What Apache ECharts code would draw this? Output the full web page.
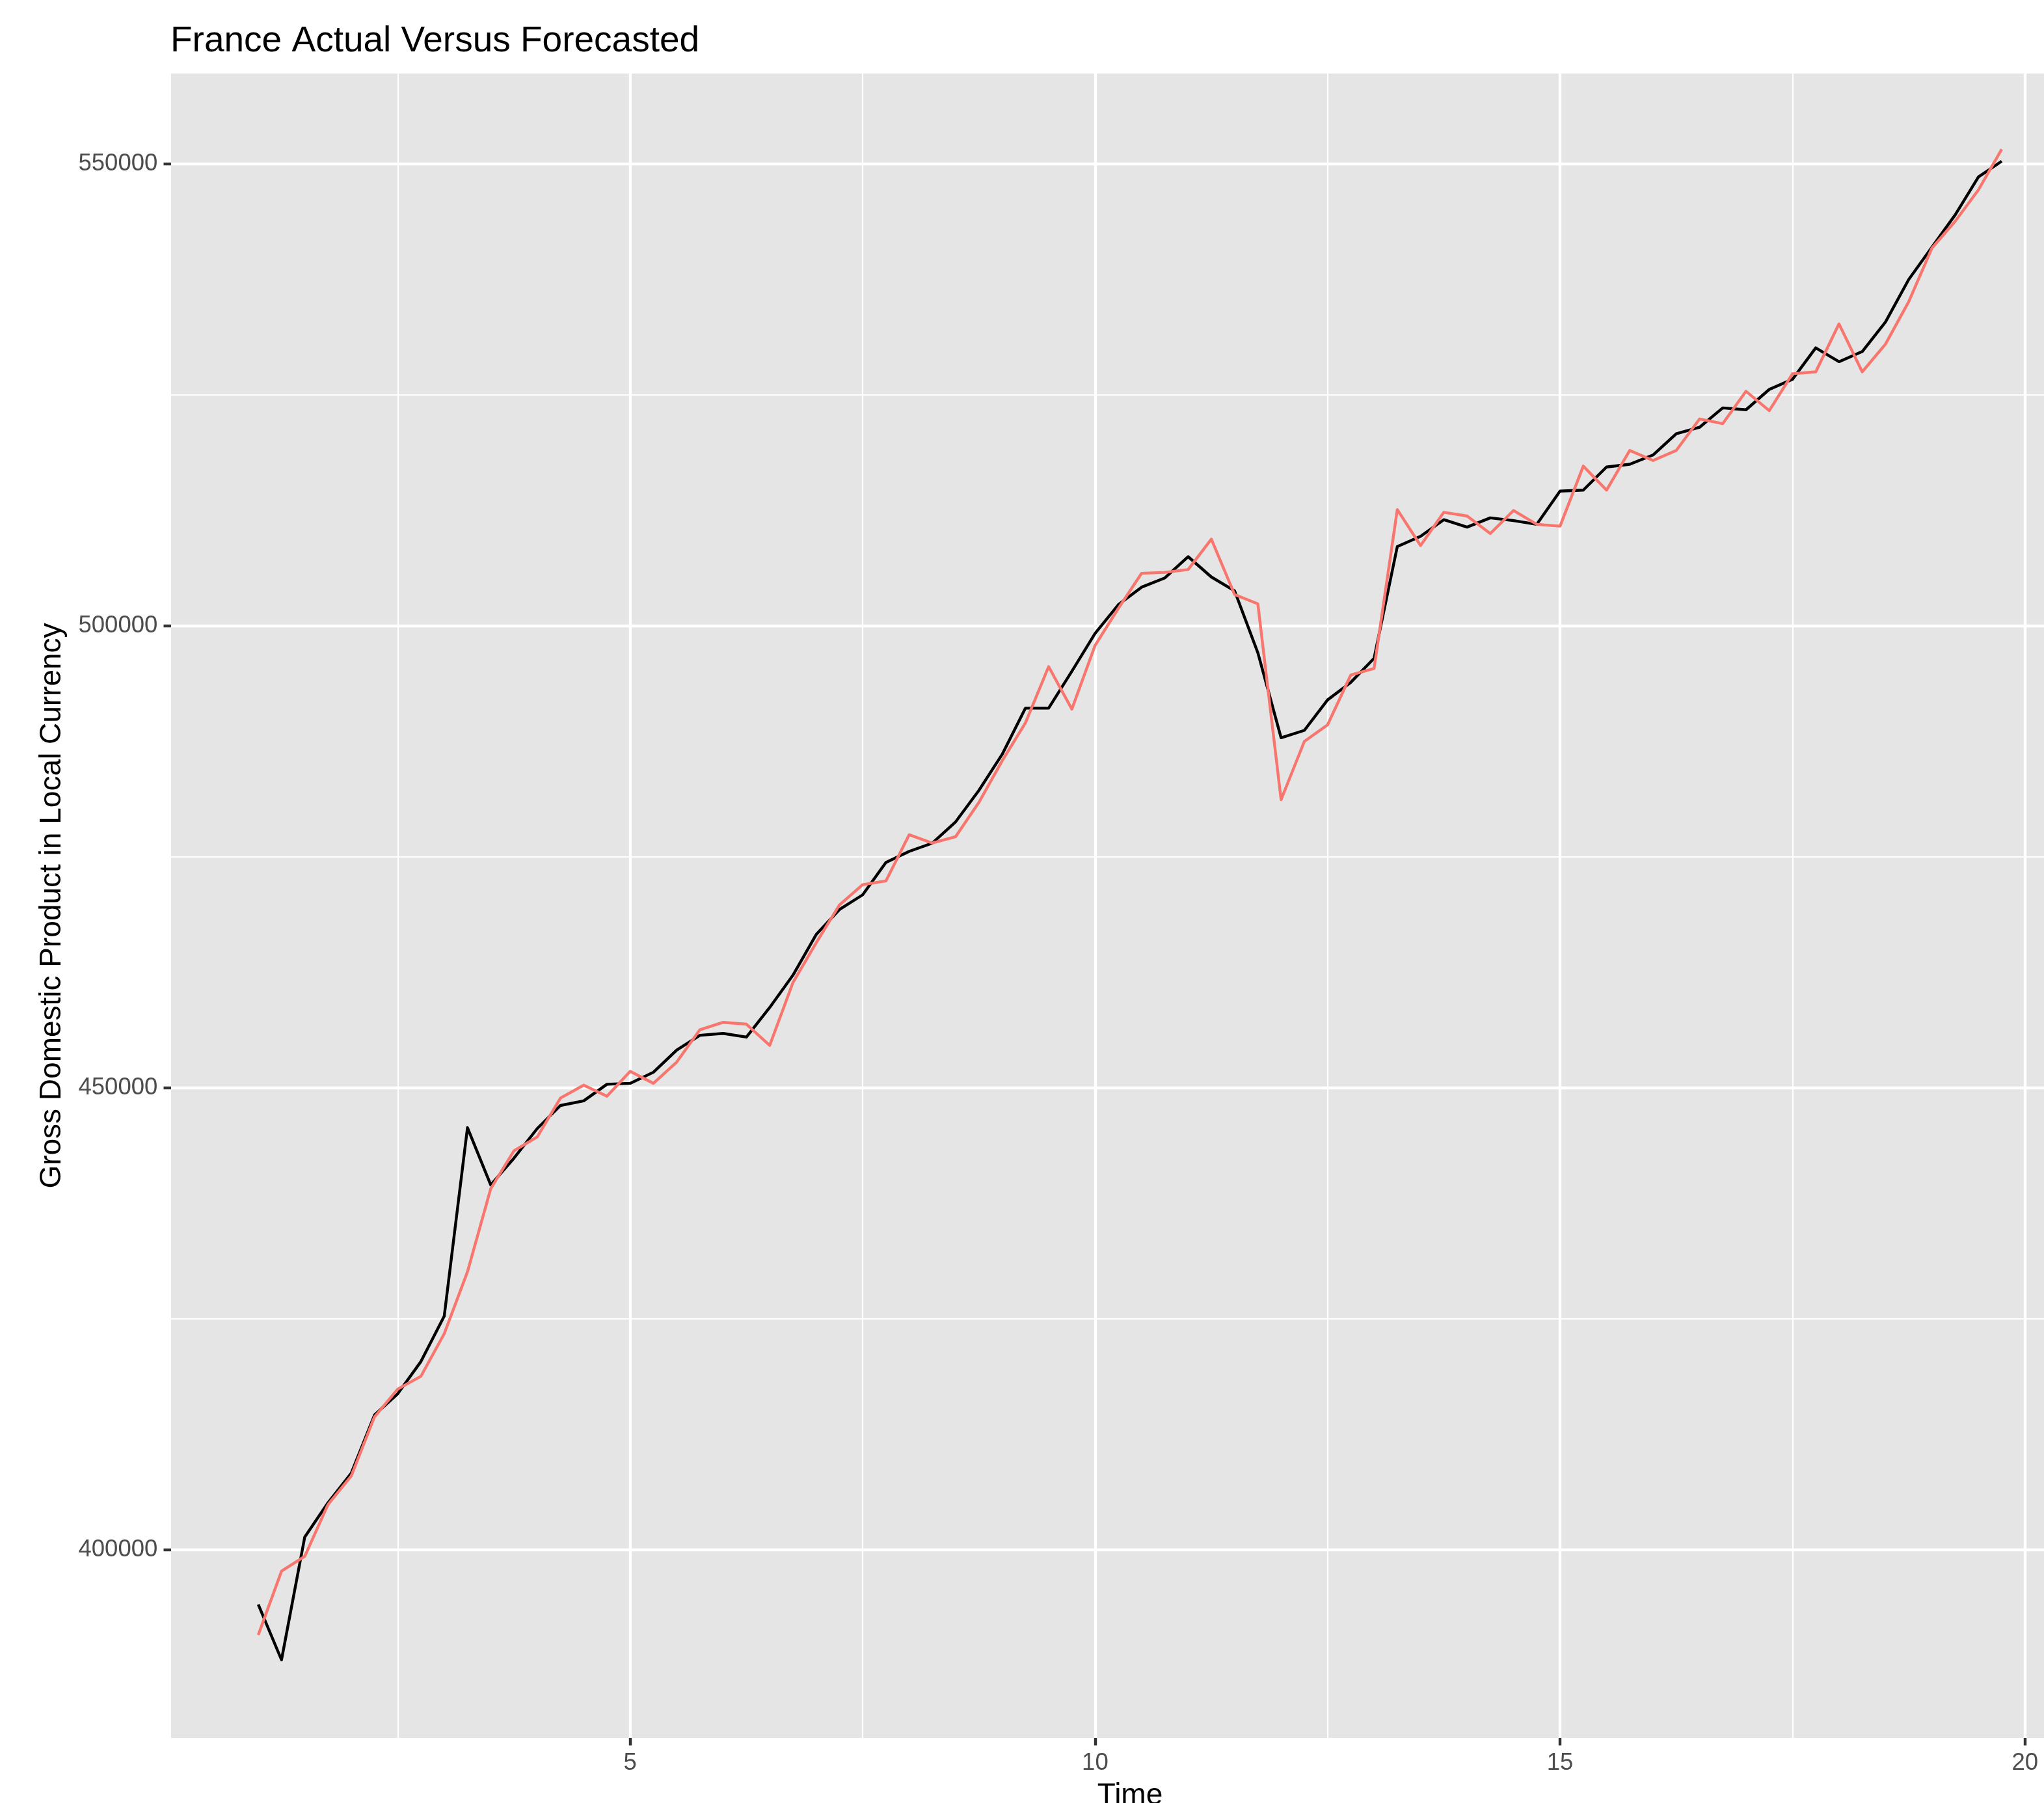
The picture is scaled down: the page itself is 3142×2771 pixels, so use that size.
<!DOCTYPE html>
<html>
<head>
<meta charset="utf-8">
<script src="https://cdn.jsdelivr.net/npm/echarts@6/dist/echarts.min.js"></script>
<style>
html,body{margin:0;padding:0;background:#fff;}
#chart{width:3142px;height:2771px;}
</style>
</head>
<body>
<div id="chart"></div>
<script>
const time = [1, 1.25, 1.5, 1.75, 2, 2.25, 2.5, 2.75, 3, 3.25, 3.5, 3.75, 4, 4.25, 4.5, 4.75,
  5, 5.25, 5.5, 5.75, 6, 6.25, 6.5, 6.75, 7, 7.25, 7.5, 7.75, 8, 8.25, 8.5, 8.75,
  9, 9.25, 9.5, 9.75, 10, 10.25, 10.5, 10.75, 11, 11.25, 11.5, 11.75, 12, 12.25, 12.5, 12.75,
  13, 13.25, 13.5, 13.75, 14, 14.25, 14.5, 14.75, 15, 15.25, 15.5, 15.75, 16, 16.25, 16.5, 16.75,
  17, 17.25, 17.5, 17.75, 18, 18.25, 18.5, 18.75, 19, 19.25, 19.5, 19.75];

const actual = [394100, 388100, 401400, 405100, 408300, 414600, 416900, 420400, 425300, 445700,
  439500, 442400, 445600, 448100, 448600, 450400, 450500, 451700, 454100, 455700,
  455900, 455500, 458700, 462200, 466600, 469300, 470900, 474400, 475600, 476500,
  478800, 482200, 486100, 491100, 491100, 495100, 499200, 502300, 504200, 505200,
  507500, 505300, 503800, 497100, 487900, 488700, 492000, 493900, 496500, 508600,
  509700, 511500, 510700, 511700, 511400, 511000, 514600, 514700, 517200, 517500,
  518500, 520800, 521500, 523600, 523400, 525600, 526700, 530100, 528600, 529700,
  532900, 537500, 541000, 544500, 548600, 550300];

const forecast = [390800, 397700, 399300, 404900, 408000, 414400, 417400, 418800, 423400, 430100,
  439100, 443200, 444700, 448900, 450300, 449100, 451800, 450500, 452800, 456300,
  457100, 456900, 454600, 461400, 465700, 469800, 472000, 472400, 477400, 476500,
  477200, 480900, 485400, 489500, 495600, 491000, 497900, 501900, 505700, 505800,
  506100, 509400, 503400, 502400, 481200, 487500, 489300, 494700, 495400, 512600,
  508700, 512300, 511900, 510000, 512500, 511000, 510800, 517300, 514700, 519000,
  517900, 519000, 522400, 521900, 525400, 523300, 527300, 527500, 532700, 527500,
  530500, 535100, 540900, 543800, 547200, 551600];

const xMajor = [5, 10, 15, 20];
const xMinor = [2.5, 7.5, 12.5, 17.5];
const yMajor = [400000, 450000, 500000, 550000];
const yMinor = [425000, 475000, 525000];

const titleText = 'France Actual Versus Forecasted';
const xTitle = 'Time';
const yTitle = 'Gross Domestic Product in Local Currency';

const FONT = 'Liberation Sans, Arial, Helvetica, sans-serif';
const XMIN = 0.0625, XMAX = 20.6875;
const YMIN = 379650, YMAX = 559790;

const pair = (xs, ys) => xs.map((x, i) => [x, ys[i]]);

const chart = echarts.init(document.getElementById('chart'), null, {renderer: 'canvas'});
chart.setOption({
  animation: false,
  backgroundColor: '#ffffff',
  title: {
    text: titleText,
    left: 262, top: 36, padding: 0,
    textStyle: {fontFamily: FONT, fontSize: 55, fontWeight: 'normal', color: '#000000'}
  },
  grid: {
    left: 263, top: 113, width: 2948, height: 2558,
    show: true, backgroundColor: '#E5E5E5', borderWidth: 0, containLabel: false,
    outerBoundsMode: 'none'
  },
  xAxis: [{
    type: 'value', min: XMIN, max: XMAX,
    name: xTitle, nameLocation: 'middle', nameGap: 66,
    nameTextStyle: {fontFamily: FONT, fontSize: 46, color: '#000000'},
    axisLine: {show: false},
    axisTick: {show: true, customValues: xMajor, length: 11.5, lineStyle: {color: '#333333', width: 4.4}},
    axisLabel: {show: true, customValues: xMajor, margin: 20.7, fontFamily: FONT, fontSize: 36.5, color: '#4D4D4D',
      formatter: v => String(v)},
    splitLine: {show: true, lineStyle: {color: '#ffffff', width: 4.4}}
  }, {
    type: 'value', min: XMIN, max: XMAX, position: 'bottom',
    axisLine: {show: false},
    axisTick: {show: false, customValues: xMinor},
    axisLabel: {show: false, customValues: xMinor},
    splitLine: {show: true, lineStyle: {color: '#ffffff', width: 2.2}}
  }],
  yAxis: [{
    type: 'value', min: YMIN, max: YMAX,
    name: yTitle, nameLocation: 'middle', nameGap: 160,
    nameTextStyle: {fontFamily: FONT, fontSize: 46, color: '#000000'},
    axisLine: {show: false},
    axisTick: {show: true, customValues: yMajor, length: 11.5, lineStyle: {color: '#333333', width: 4.4}},
    axisLabel: {show: true, customValues: yMajor, margin: 20.7, fontFamily: FONT, fontSize: 36.5, color: '#4D4D4D',
      formatter: v => String(v)},
    splitLine: {show: true, lineStyle: {color: '#ffffff', width: 4.4}}
  }, {
    type: 'value', min: YMIN, max: YMAX, position: 'left',
    axisLine: {show: false},
    axisTick: {show: false, customValues: yMinor},
    axisLabel: {show: false, customValues: yMinor},
    splitLine: {show: true, lineStyle: {color: '#ffffff', width: 2.2}}
  }],
  series: [{
    name: 'Actual', type: 'line', xAxisIndex: 0, yAxisIndex: 0,
    data: pair(time, actual), showSymbol: false, symbol: 'none', clip: true,
    lineStyle: {color: '#000000', width: 4.4, join: 'round', cap: 'butt'}
  }, {
    name: 'Forecast', type: 'line', xAxisIndex: 0, yAxisIndex: 0,
    data: pair(time, forecast), showSymbol: false, symbol: 'none', clip: true,
    lineStyle: {color: '#F8766D', width: 4.4, join: 'round', cap: 'butt'}
  }]
});
</script>
</body>
</html>
